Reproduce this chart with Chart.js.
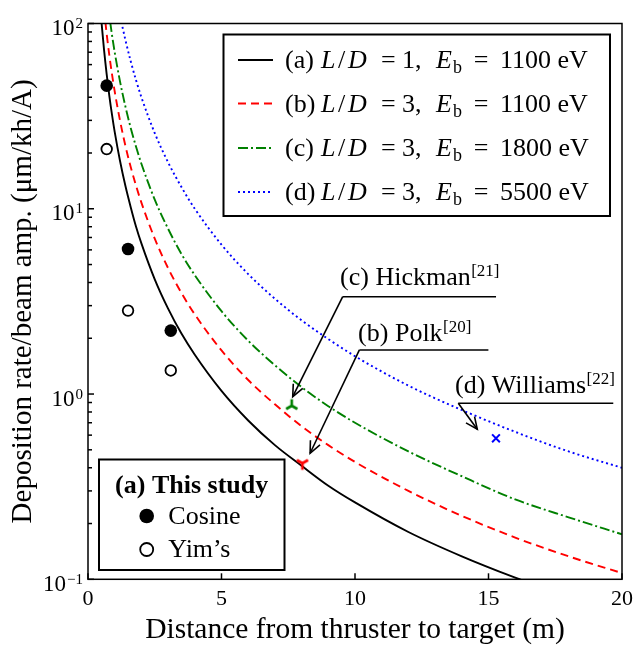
<!DOCTYPE html>
<html>
<head>
<meta charset="utf-8">
<script src="https://cdn.jsdelivr.net/npm/chart.js@4/dist/chart.umd.min.js"></script>
<style>
html,body{margin:0;padding:0;background:#fff;}
canvas{display:block;}
</style>
</head>
<body>
<canvas id="c" width="634" height="645"></canvas>
<script>
// ---------- data ----------
const xA = [0.5,0.6,0.7,0.8,0.9,1,1.2,1.4,1.6,1.8,2,2.5,3,3.5,4,5,6,7,8,9,10,12,14,16,18,20];
const yA = [104,72.2,53.1,40.6,32.1,26,18.1,13.3,10.2,8.0,6.5,4.16,2.89,2.12,1.63,1.04,0.72,0.53,0.41,0.32,0.26,0.18,0.133,0.102,0.080,0.065];
const xB = [0.65,0.7,0.8,0.9,1,1.2,1.4,1.6,1.8,2,2.5,3,3.5,4,5,6,7,8,9,10,12,14,16,18,20];
const yB = [102,87.8,67.2,53.1,43,29.9,21.9,16.8,13.3,10.8,6.9,4.78,3.51,2.69,1.72,1.19,0.88,0.67,0.53,0.43,0.30,0.22,0.168,0.133,0.108];
const xC = [0.83,0.9,1,1.2,1.4,1.6,1.8,2,2.5,3,3.5,4,5,6,7,8,9,10,12,14,16,18,20];
const yC = [102,86.4,70,48.6,35.7,27.3,21.6,17.5,11.2,7.8,5.7,4.38,2.8,1.94,1.43,1.09,0.86,0.70,0.49,0.36,0.27,0.216,0.175];
const xD = [1.25,1.4,1.6,1.8,2,2.5,3,3.5,4,5,6,7,8,9,10,12,14,16,18,20];
const yD = [102,81.6,62.5,49.4,40,25.6,17.8,13.1,10,6.4,4.44,3.27,2.5,1.98,1.6,1.11,0.82,0.625,0.49,0.40];

const studyX = [0.7,1.5,3.1];
const cosineY = [46.2,6.07,2.2];
const yimY = [21.0,2.82,1.34];

const hickmanX = [7.63], hickmanY = [0.865];
const polkX = [8.03], polkY = [0.423];
const williamsX = [15.28], williamsY = [0.577];

const xTicks = [0,5,10,15,20];
const yDecades = [-1,0,1,2];

const legendLetters = ['a','b','c','d'];
const legendLD = ['1','3','3','3'];
const legendEb = ['1100','1100','1800','5500'];

const FAM = '"Liberation Serif","Times New Roman",serif';

function pts(xs, ys){ return xs.map((x,i)=>({x:x,y:ys[i]})); }

function triCanvas(color, down){
  const c = document.createElement('canvas');
  c.width = 18; c.height = 18;
  const g = c.getContext('2d');
  g.strokeStyle = color; g.lineWidth = 2.6; g.lineCap='butt';
  const r = 6.5, cx = 9, cy = 9, s = down ? 1 : -1;
  g.beginPath();
  g.moveTo(cx,cy); g.lineTo(cx, cy + s*r);
  g.moveTo(cx,cy); g.lineTo(cx-0.866*r, cy - s*0.5*r);
  g.moveTo(cx,cy); g.lineTo(cx+0.866*r, cy - s*0.5*r);
  g.stroke();
  return c;
}

const lineStyles = [
  {color:'#000000', dash:[]},
  {color:'#ff0000', dash:[8,5]},
  {color:'#008000', dash:[10,3,2,3]},
  {color:'#0000ff', dash:[2,3]}
];

function curve(xs, ys, st){
  return {data:pts(xs,ys), borderColor:st.color, borderWidth:1.9, borderDash:st.dash,
    pointRadius:0, fill:false, cubicInterpolationMode:'monotone', order:2};
}

const datasets = [
  curve(xA,yA,lineStyles[0]),
  curve(xB,yB,lineStyles[1]),
  curve(xC,yC,lineStyles[2]),
  curve(xD,yD,lineStyles[3]),
  {data:pts(studyX,cosineY), showLine:false, pointStyle:'circle', pointRadius:6.3,
   backgroundColor:'#000', borderColor:'#000', borderWidth:0, order:0},
  {data:pts(studyX,yimY), showLine:false, pointStyle:'circle', pointRadius:5.3,
   backgroundColor:'#fff', borderColor:'#000', borderWidth:1.8, order:0},
  {data:pts(hickmanX,hickmanY), showLine:false, pointStyle:triCanvas('#008000', false), pointRadius:9, order:0},
  {data:pts(polkX,polkY), showLine:false, pointStyle:triCanvas('#ff0000', true), pointRadius:9, order:0},
  {data:pts(williamsX,williamsY), showLine:false, pointStyle:'crossRot', pointRadius:5.5,
   borderColor:'#0000ff', borderWidth:2, order:0}
];

function arrowTo(ctx, x0,y0,x1,y1){
  ctx.beginPath(); ctx.moveTo(x0,y0); ctx.lineTo(x1,y1); ctx.stroke();
  const a = Math.atan2(y1-y0,x1-x0), L = 13, w = 0.42;
  ctx.beginPath();
  ctx.moveTo(x1 - L*Math.cos(a-w), y1 - L*Math.sin(a-w));
  ctx.lineTo(x1,y1);
  ctx.lineTo(x1 - L*Math.cos(a+w), y1 - L*Math.sin(a+w));
  ctx.stroke();
}

// annotation layout (pixel offsets relative to each marker)
const notes = [
  {letter:'c', name:'Hickman', ref:'[21]', mx:hickmanX[0], my:hickmanY[0],
   tip:[1,-9], ul:[51,-109,204.3], txt:[48.3,-120.7]},
  {letter:'b', name:'Polk', ref:'[20]', mx:polkX[0], my:polkY[0],
   tip:[7.7,-10], ul:[57,-113.3,186], txt:[55.7,-122.6]},
  {letter:'d', name:'Williams', ref:'[22]', mx:williamsX[0], my:williamsY[0],
   tip:[-18.7,-9], ul:[-37.7,-35,117.3], txt:[-41,-45]}
];

const deco = {
  id:'deco',
  afterDraw(chart){
    const ctx = chart.ctx, a = chart.chartArea, xs = chart.scales.x, ys = chart.scales.y;
    ctx.save();
    ctx.fillStyle = '#000'; ctx.strokeStyle = '#000';
    // frame
    ctx.lineWidth = 1.5; ctx.setLineDash([]);
    ctx.strokeRect(a.left, a.top, a.right-a.left, a.bottom-a.top);
    // x ticks (inward) and labels
    ctx.font = '22px ' + FAM; ctx.textAlign='center'; ctx.textBaseline='alphabetic';
    xTicks.forEach(v=>{
      const px = xs.getPixelForValue(v);
      ctx.beginPath(); ctx.moveTo(px,a.bottom); ctx.lineTo(px,a.bottom-6); ctx.stroke();
      ctx.fillText(String(v), px, a.bottom+26);
    });
    // y ticks (inward), minor ticks and labels
    yDecades.forEach(d=>{
      const py = ys.getPixelForValue(Math.pow(10,d));
      ctx.beginPath(); ctx.moveTo(a.left,py); ctx.lineTo(a.left+6,py); ctx.stroke();
      if (d < 2) {
        for (let m=2;m<=9;m++){
          const pm = ys.getPixelForValue(m*Math.pow(10,d));
          ctx.beginPath(); ctx.moveTo(a.left,pm); ctx.lineTo(a.left+4,pm); ctx.stroke();
        }
      }
      const sup = d < 0 ? '\u2212' + Math.abs(d) : String(d);
      ctx.font = '15px ' + FAM;
      const sw = ctx.measureText(sup).width;
      ctx.font = '23px ' + FAM;
      const bw = ctx.measureText('10').width;
      const right = 83;
      ctx.textAlign='left';
      ctx.fillText('10', right - sw - 1 - bw, py + 11.5);
      ctx.font = '15px ' + FAM;
      ctx.fillText(sup, right - sw, py + 4.5);
    });
    // top-right legend
    ctx.lineWidth = 2;
    ctx.strokeRect(223.5, 34.5, 386.5, 181.5);
    const rows = [60, 103.5, 148, 192];
    rows.forEach((cy,i)=>{
      const st = lineStyles[i];
      ctx.save();
      ctx.strokeStyle = st.color; ctx.lineWidth = 1.9; ctx.setLineDash(st.dash);
      ctx.beginPath(); ctx.moveTo(238,cy); ctx.lineTo(273,cy); ctx.stroke();
      ctx.restore();
      const bl = cy + 8.3;
      ctx.textAlign='left';
      ctx.font = '26px ' + FAM;
      ctx.fillText('(' + legendLetters[i] + ')', 285, bl);
      ctx.font = 'italic 26px ' + FAM;
      ctx.fillText('L', 321, bl);
      ctx.font = '26px ' + FAM;
      ctx.fillText('/', 338, bl);
      ctx.font = 'italic 26px ' + FAM;
      ctx.fillText('D', 348, bl);
      ctx.font = '26px ' + FAM;
      ctx.textAlign='center';
      ctx.fillText('=', 388.3, bl);
      ctx.fillText('=', 481, bl);
      ctx.textAlign='left';
      ctx.fillText(legendLD[i] + ',', 402, bl);
      ctx.font = 'italic 26px ' + FAM;
      ctx.fillText('E', 436, bl);
      ctx.font = '18px ' + FAM;
      ctx.fillText('b', 453, bl + 5);
      ctx.font = '26px ' + FAM;
      ctx.fillText(legendEb[i] + ' eV', 500, bl);
    });
    // bottom-left legend
    ctx.lineWidth = 2;
    ctx.strokeRect(99, 459.5, 185.5, 110.5);
    ctx.textAlign = 'center';
    ctx.font = 'bold 26px ' + FAM;
    ctx.fillText('(a) This study', 191.7, 493);
    ctx.textAlign = 'left';
    ctx.beginPath(); ctx.arc(146.7, 516, 7.3, 0, Math.PI*2); ctx.fill();
    ctx.font = '26px ' + FAM;
    ctx.fillText('Cosine', 168.3, 523.5);
    ctx.beginPath(); ctx.arc(146.7, 549.5, 6.5, 0, Math.PI*2);
    ctx.fillStyle='#fff'; ctx.fill(); ctx.lineWidth = 1.8; ctx.stroke();
    ctx.fillStyle='#000';
    ctx.fillText('Yim\u2019s', 168.3, 556.5);
    // annotations
    notes.forEach(n=>{
      const mx = xs.getPixelForValue(n.mx), my = ys.getPixelForValue(n.my);
      ctx.lineWidth = 1.6; ctx.setLineDash([]);
      const ux0 = mx + n.ul[0], uy = my + n.ul[1], ux1 = mx + n.ul[2];
      ctx.beginPath(); ctx.moveTo(ux0,uy); ctx.lineTo(ux1,uy); ctx.stroke();
      arrowTo(ctx, ux0, uy, mx + n.tip[0], my + n.tip[1]);
      const tx = mx + n.txt[0], ty = my + n.txt[1];
      ctx.font = '26px ' + FAM; ctx.textAlign='left';
      const main = '(' + n.letter + ') ' + n.name;
      ctx.fillText(main, tx, ty);
      const w = ctx.measureText(main).width;
      ctx.font = '17px ' + FAM;
      ctx.fillText(n.ref, tx + w + 0.5, ty - 9);
    });
    ctx.restore();
  }
};

new Chart(document.getElementById('c'), {
  type:'line',
  data:{datasets:datasets},
  options:{
    responsive:false, animation:false, devicePixelRatio:1,
    layout:{padding:{top:23.5,right:12,left:0,bottom:0}},
    plugins:{legend:{display:false}, tooltip:{enabled:false}},
    scales:{
      x:{type:'linear', min:0, max:20,
         ticks:{display:false}, grid:{display:false}, border:{display:false},
         title:{display:true, text:'Distance from thruster to target (m)', color:'#000',
                font:{family:FAM, size:29.5, lineHeight:1}, padding:{top:0,bottom:0}},
         afterFit(s){ s.height = 65.7; }},
      y:{type:'logarithmic', min:0.1, max:100,
         ticks:{display:false}, grid:{display:false}, border:{display:false},
         title:{display:true, text:'Deposition rate/beam amp. (\u03bcm/kh/A)', color:'#000',
                font:{family:FAM, size:29, lineHeight:1}, padding:{top:9,bottom:0}},
         afterFit(s){ s.width = 88; }}
    }
  },
  plugins:[deco]
});
</script>
</body>
</html>
